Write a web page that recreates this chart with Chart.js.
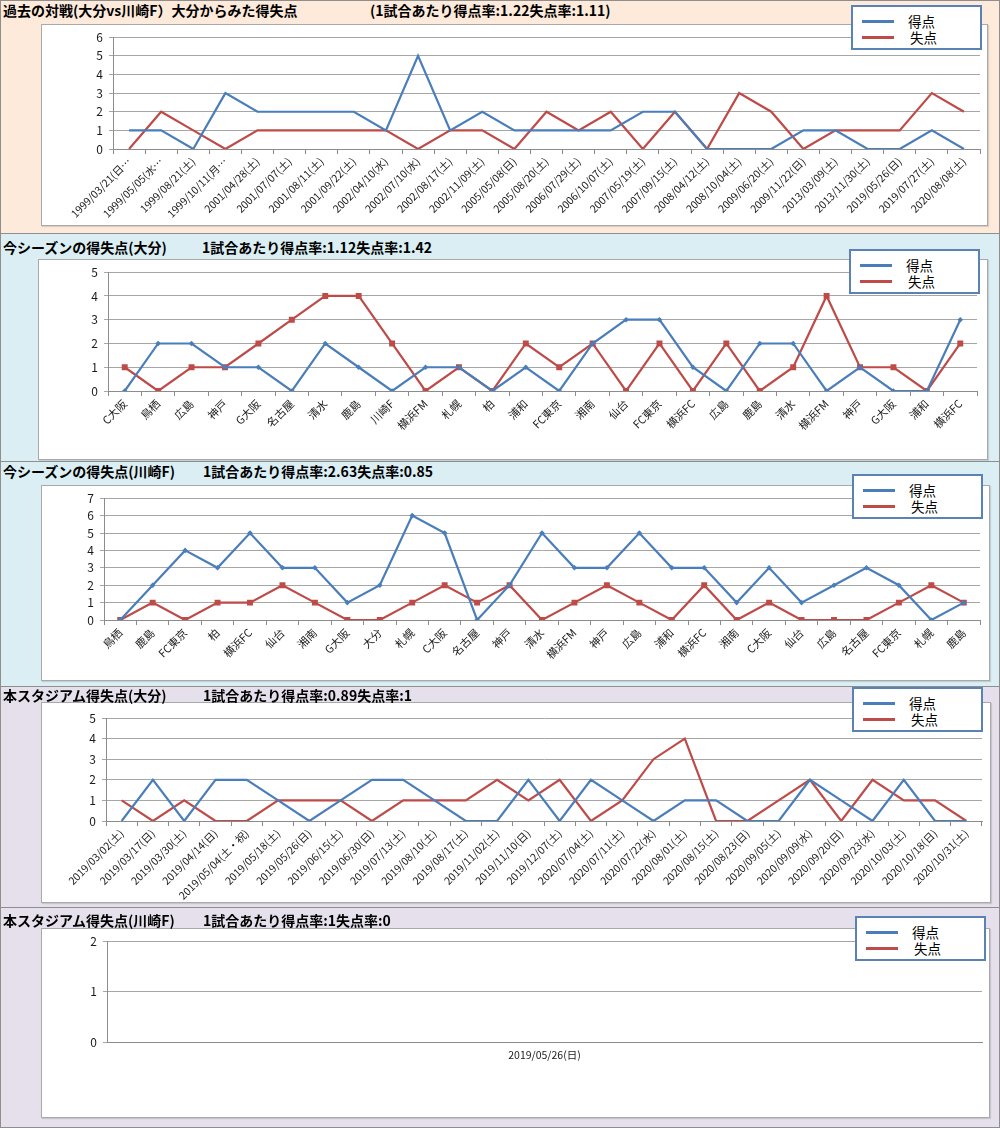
<!DOCTYPE html>
<html><head><meta charset="utf-8">
<script src="https://cdn.jsdelivr.net/npm/chart.js@4.4.0/dist/chart.umd.min.js"></script>
<style>
body{margin:0;width:1000px;height:1128px;position:relative;overflow:hidden;font-family:"Noto Sans CJK JP","Noto Sans",sans-serif;background:#fff;}
.panel{position:absolute;left:0;width:1000px;border:1px solid #8e8e8e;box-sizing:border-box;}
.title{position:absolute;font-weight:bold;font-size:14px;white-space:nowrap;line-height:16px;color:#000;z-index:5;}
.box{position:absolute;background:#fff;border:1px solid #a9a9a9;box-sizing:border-box;box-shadow:1px 1px 1px rgba(0,0,0,0.12);}
canvas{position:absolute;}
.legend{position:absolute;background:#fff;border:2px solid #5a82b4;box-sizing:border-box;width:131px;height:45px;z-index:6;}
.legend .ln{position:absolute;left:9px;width:32px;height:3px;}
.legend .tx{position:absolute;left:56px;font-size:13.5px;line-height:16px;color:#000;}
</style></head><body>
<script>
// ---------- data ----------
const seriesNames = ['得点', '失点'];

const pastLabels = ['1999/03/21(日…','1999/05/05(水…','1999/08/21(土)','1999/10/11(月…','2001/04/28(土)','2001/07/07(土)','2001/08/11(土)','2001/09/22(土)','2002/04/10(水)','2002/07/10(水)','2002/08/17(土)','2002/11/09(土)','2005/05/08(日)','2005/08/20(土)','2006/07/29(土)','2006/10/07(土)','2007/05/19(土)','2007/09/15(土)','2008/04/12(土)','2008/10/04(土)','2009/06/20(土)','2009/11/22(日)','2013/03/09(土)','2013/11/30(土)','2019/05/26(日)','2019/07/27(土)','2020/08/08(土)'];
const pastFor     = [1,1,0,3,2,2,2,2,1,5,1,2,1,1,1,1,2,2,0,0,0,1,1,0,0,1,0];
const pastAgainst = [0,2,1,0,1,1,1,1,1,0,1,1,0,2,1,2,0,2,0,3,2,0,1,1,1,3,2];

const oitaLabels  = ['C大阪','鳥栖','広島','神戸','G大阪','名古屋','清水','鹿島','川崎F','横浜FM','札幌','柏','浦和','FC東京','湘南','仙台','FC東京','横浜FC','広島','鹿島','清水','横浜FM','神戸','G大阪','浦和','横浜FC'];
const oitaFor     = [0,2,2,1,1,0,2,1,0,1,1,0,1,0,2,3,3,1,0,2,2,0,1,0,0,3];
const oitaAgainst = [1,0,1,1,2,3,4,4,2,0,1,0,2,1,2,0,2,0,2,0,1,4,1,1,0,2];

const kawaLabels  = ['鳥栖','鹿島','FC東京','柏','横浜FC','仙台','湘南','G大阪','大分','札幌','C大阪','名古屋','神戸','清水','横浜FM','神戸','広島','浦和','横浜FC','湘南','C大阪','仙台','広島','名古屋','FC東京','札幌','鹿島'];
const kawaFor     = [0,2,4,3,5,3,3,1,2,6,5,0,2,5,3,3,5,3,3,1,3,1,2,3,2,0,1];
const kawaAgainst = [0,1,0,1,1,2,1,0,0,1,2,1,2,0,1,2,1,0,2,0,1,0,0,0,1,2,1];

const stadOitaLabels  = ['2019/03/02(土)','2019/03/17(日)','2019/03/30(土)','2019/04/14(日)','2019/05/04(土・祝)','2019/05/18(土)','2019/05/26(日)','2019/06/15(土)','2019/06/30(日)','2019/07/13(土)','2019/08/10(土)','2019/08/17(土)','2019/11/02(土)','2019/11/10(日)','2019/12/07(土)','2020/07/04(土)','2020/07/11(土)','2020/07/22(水)','2020/08/01(土)','2020/08/15(土)','2020/08/23(日)','2020/09/05(土)','2020/09/09(水)','2020/09/20(日)','2020/09/23(水)','2020/10/03(土)','2020/10/18(日)','2020/10/31(土)'];
const stadOitaFor     = [0,2,0,2,2,1,0,1,2,2,1,0,0,2,0,2,1,0,1,1,0,0,2,1,0,2,0,0];
const stadOitaAgainst = [1,0,1,0,0,1,1,1,0,1,1,1,2,1,2,0,1,3,4,0,0,1,2,0,2,1,1,0];

const stadKawaLabels  = ['2019/05/26(日)'];
const stadKawaFor     = [1];
const stadKawaAgainst = [0];

const titles = ['過去の対戦(大分vs川崎F）大分からみた得失点','今シーズンの得失点(大分)','今シーズンの得失点(川崎F)','本スタジアム得失点(大分)','本スタジアム得失点(川崎F)'];
const rateTexts = ['(1試合あたり得点率:1.22失点率:1.11)','1試合あたり得点率:1.12失点率:1.42','1試合あたり得点率:2.63失点率:0.85','1試合あたり得点率:0.89失点率:1','1試合あたり得点率:1失点率:0'];
const yMaxValues = [6,5,7,5,2];

// ---------- layout / style ----------
const BLUE = '#4a7ebb', RED = '#be4b48';
const panels = [
  {labels:pastLabels, f:pastFor, a:pastAgainst, bg:'#fdeada', top:0, bottom:234, titleY:2, rateX:370,
   box:{l:41,t:24,r:988,b:226}, plot:{l:113,t:32,r:980,b:149}, leg:{x:851,y:5}, markers:false, rot:45, fs:10.5},
  {labels:oitaLabels, f:oitaFor, a:oitaAgainst, bg:'#daeef3', top:233, bottom:462, titleY:239, rateX:202,
   box:{l:38,t:259,r:988,b:460}, plot:{l:108,t:267,r:977,b:391}, leg:{x:849,y:249}, markers:true, rot:45, fs:11},
  {labels:kawaLabels, f:kawaFor, a:kawaAgainst, bg:'#daeef3', top:461, bottom:687, titleY:463, rateX:203,
   box:{l:41,t:485,r:990,b:681}, plot:{l:104,t:495,r:980,b:620}, leg:{x:852,y:474}, markers:true, rot:45, fs:11},
  {labels:stadOitaLabels, f:stadOitaFor, a:stadOitaAgainst, bg:'#e5e0ec', top:686, bottom:908, titleY:687, rateX:203,
   box:{l:41,t:702,r:991,b:903}, plot:{l:106,t:718,r:982,b:821}, leg:{x:852,y:687}, markers:false, rot:45, fs:10.5},
  {labels:stadKawaLabels, f:stadKawaFor, a:stadKawaAgainst, bg:'#e5e0ec', top:907, bottom:1128, titleY:912, rateX:203,
   box:{l:41,t:928,r:990,b:1118}, plot:{l:107,t:936,r:982,b:1042}, leg:{x:855,y:916}, markers:false, rot:0, fs:10.5}
];

function el(tag, cls, css, text){
  const e=document.createElement(tag); if(cls) e.className=cls;
  Object.assign(e.style, css||{}); if(text!==undefined) e.textContent=text;
  document.body.appendChild(e); return e;
}

panels.forEach((p,i)=>{
  el('div','panel',{top:p.top+'px',height:(p.bottom-p.top)+'px',background:p.bg});
  el('div','title',{left:'3px',top:p.titleY+'px'},titles[i]);
  el('div','title',{left:p.rateX+'px',top:p.titleY+'px'},rateTexts[i]);
  const bw=p.box.r-p.box.l, bh=p.box.b-p.box.t;
  el('div','box',{left:p.box.l+'px',top:p.box.t+'px',width:bw+'px',height:bh+'px'});
  const cv=el('canvas',null,{left:p.box.l+'px',top:p.box.t+'px',width:bw+'px',height:bh+'px'});
  cv.width=bw; cv.height=bh;
  const yW=p.plot.l-p.box.l, xH=p.box.b-p.plot.b;
  new Chart(cv,{
    type:'line',
    data:{labels:p.labels,datasets:[
      {label:seriesNames[0],data:p.f,borderColor:BLUE,backgroundColor:BLUE,borderWidth:2.2,tension:0,
       pointStyle:'rectRot',pointRadius:p.markers?2.8:0,pointBorderWidth:0},
      {label:seriesNames[1],data:p.a,borderColor:RED,backgroundColor:RED,borderWidth:2.2,tension:0,
       pointStyle:'rect',pointRadius:p.markers?4.2:0,pointBorderWidth:0}
    ]},
    options:{
      responsive:false,animation:false,devicePixelRatio:1,
      layout:{padding:{left:0,right:p.box.r-p.plot.r,top:p.plot.t-p.box.t,bottom:0}},
      plugins:{legend:{display:false},tooltip:{enabled:false}},
      scales:{
        x:{type:'category',offset:true,
           grid:{offset:true,drawOnChartArea:false,drawTicks:p.rot!==0,tickLength:5,color:'#8c8c8c'},
           border:{color:'#8c8c8c'},
           ticks:{autoSkip:false,minRotation:p.rot,maxRotation:p.rot,padding:p.rot?1:7,color:'#1a1a1a',
                  font:{family:'"Noto Sans CJK JP"',size:p.fs}},
           afterFit(s){s.height=xH;}},
        y:{min:0,max:yMaxValues[i],
           ticks:{stepSize:1,padding:6,color:'#1a1a1a',font:{family:'"Noto Sans CJK JP"',size:12}},
           grid:{color:'#a6a6a6',tickLength:4},
           border:{color:'#8c8c8c'},
           afterFit(s){s.width=yW;}}
      }
    }
  });
  const lg=el('div','legend',{left:p.leg.x+'px',top:p.leg.y+'px'});
  [BLUE,RED].forEach((c,k)=>{
    const ln=document.createElement('div'); ln.className='ln';
    ln.style.background=c; ln.style.top=(13+k*16)+'px'; lg.appendChild(ln);
    const tx=document.createElement('div'); tx.className='tx'; tx.textContent=seriesNames[k];
    tx.style.top=(6+k*16)+'px'; tx.style.left=(55+k*2)+'px'; lg.appendChild(tx);
  });
});
</script>
</body></html>
